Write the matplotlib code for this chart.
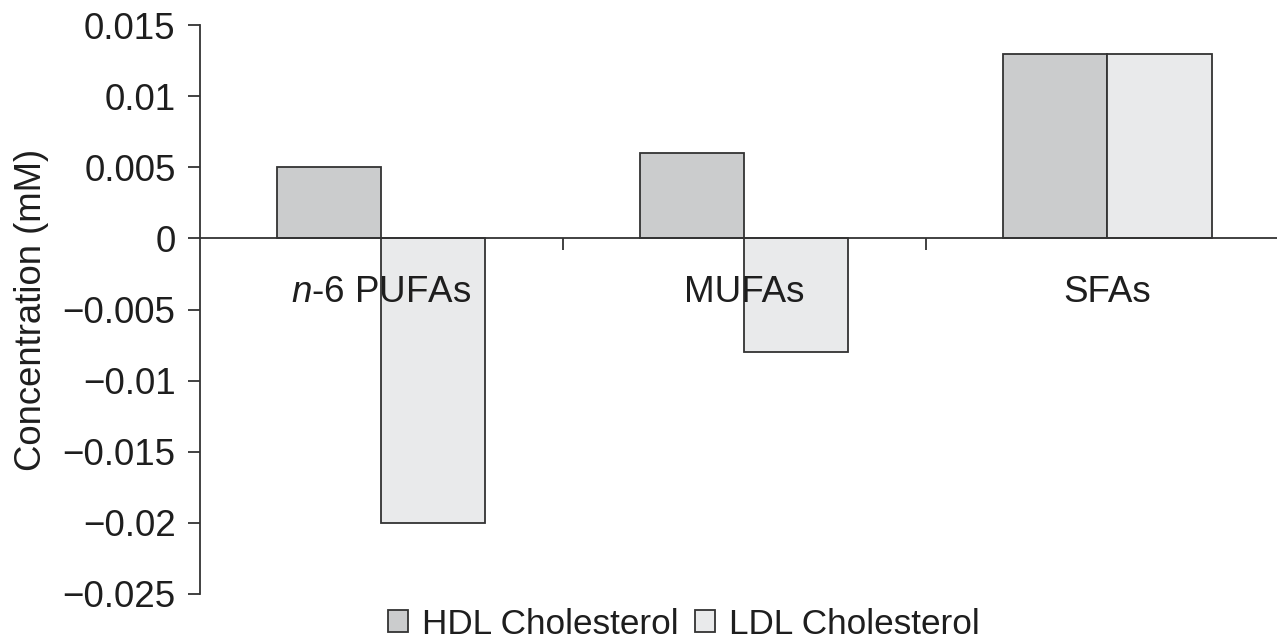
import numpy as np
import matplotlib
matplotlib.use("Agg")
import matplotlib.pyplot as plt
from matplotlib.ticker import FixedLocator

plt.rcParams['font.family'] = ['Liberation Sans', 'DejaVu Sans']
plt.rcParams['mathtext.fontset'] = 'custom'
plt.rcParams['mathtext.rm'] = 'Liberation Sans'
plt.rcParams['mathtext.it'] = 'Liberation Sans:italic'

# data
categories = ['$n$-6 PUFAs', 'MUFAs', 'SFAs']
hdl = [0.005, 0.006, 0.013]
ldl = [-0.020, -0.008, 0.013]
series_names = ['HDL Cholesterol', 'LDL Cholesterol']
y_ticks = [0.015, 0.01, 0.005, 0, -0.005, -0.01, -0.015, -0.02, -0.025]
y_tick_labels = ['0.015', '0.01', '0.005', '0', '\u22120.005', '\u22120.01',
                 '\u22120.015', '\u22120.02', '\u22120.025']

hdl_color = '#cbcccd'
ldl_color = '#e9eaeb'
edge = '#333333'
text_color = '#1e1e1e'

fig = plt.figure(figsize=(12.77, 6.42), dpi=100)
ax = fig.add_axes([0.1566, 0.0748, 0.8528, 0.886])

x = np.arange(len(categories))
w = 0.2865
# bars stay below the axis so the category labels draw on top of them
ax.bar(x - w / 2, hdl, w, color=hdl_color, edgecolor=edge, linewidth=1.3,
       label=series_names[0], zorder=1)
ax.bar(x + w / 2, ldl, w, color=ldl_color, edgecolor=edge, linewidth=1.3,
       label=series_names[1], zorder=1)

ax.set_xlim(-0.5, len(categories) - 0.5)
ax.set_ylim(-0.025, 0.015)

# spines: zero line acts as category axis
ax.spines['top'].set_visible(False)
ax.spines['right'].set_visible(False)
ax.spines['bottom'].set_position(('data', 0))
for s in ('left', 'bottom'):
    ax.spines[s].set_color(edge)
    ax.spines[s].set_linewidth(1.3)

ax.set_yticks(y_ticks)
ax.set_yticklabels(y_tick_labels)
ax.tick_params(axis='y', direction='out', length=8.6, width=1.3, color=edge,
               labelsize=26.5, pad=9, labelcolor=text_color)

ax.set_xticks(x)
ax.set_xticklabels(categories)
ax.xaxis.set_minor_locator(FixedLocator(x[:-1] + 0.5))
ax.tick_params(axis='x', which='major', length=0, labelsize=26.5, pad=26,
               labelcolor=text_color)
ax.tick_params(axis='x', which='minor', direction='out', length=8.6, width=1.3,
               color=edge)
ax.xaxis.set_zorder(3)

ax.set_ylabel('Concentration (mM)', fontsize=26.3, color=text_color)
ax.yaxis.set_label_coords(-0.139, 0.5)

handles, labels = ax.get_legend_handles_labels()
fig.legend(handles, labels, loc='center', bbox_to_anchor=(684 / 1277, 1 - 624 / 642),
           ncol=2, frameon=False, fontsize=25.3, handlelength=0.56, handleheight=0.56,
           handletextpad=0.39, columnspacing=0.48, labelcolor=text_color,
           borderpad=0)

fig.savefig('out.png', dpi=100)
